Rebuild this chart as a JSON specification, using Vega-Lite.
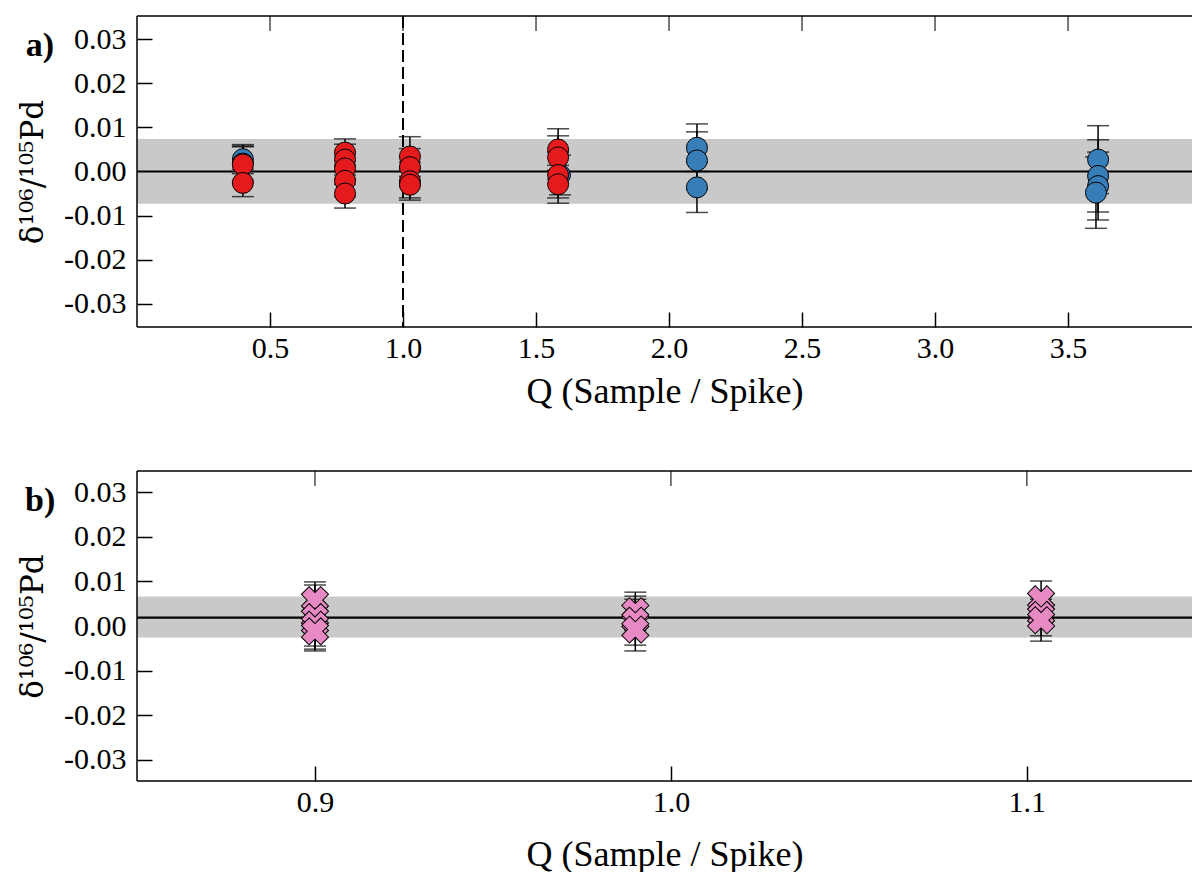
{
  "$schema": "https://vega.github.io/schema/vega-lite/v6.json",
  "padding": {"left": 17, "top": 15, "right": 0, "bottom": 0},
  "background": "white",
  "config": {
    "font": "Liberation Serif",
    "view": {"stroke": null},
    "axis": {
      "labelFont": "Liberation Serif", "titleFont": "Liberation Serif",
      "labelFontSize": 30, "titleFontSize": 36, "titleFontWeight": "normal",
      "labelColor": "black", "titleColor": "black",
      "domainColor": "black", "tickColor": "black",
      "domainWidth": 1.5, "tickWidth": 1.5, "grid": false
    }
  },
  "spacing": 61,
  "datasets": {
    "pointsA": [
      {"Q": 0.398, "delta": 0.0028, "lo": -0.0005, "hi": 0.0061, "set": "A"},
      {"Q": 0.398, "delta": 0.0018, "lo": -0.0020, "hi": 0.0056, "set": "A"},
      {"Q": 1.59, "delta": -0.0008, "lo": -0.0053, "hi": 0.0037, "set": "A"},
      {"Q": 2.105, "delta": 0.0054, "lo": 0.0000, "hi": 0.0108, "set": "A"},
      {"Q": 2.105, "delta": 0.0025, "lo": -0.0040, "hi": 0.0090, "set": "A"},
      {"Q": 2.105, "delta": -0.0036, "lo": -0.0093, "hi": 0.0021, "set": "A"},
      {"Q": 3.613, "delta": 0.0027, "lo": -0.0050, "hi": 0.0104, "set": "A"},
      {"Q": 3.613, "delta": -0.0010, "lo": -0.0092, "hi": 0.0072, "set": "A"},
      {"Q": 3.613, "delta": -0.0033, "lo": -0.0110, "hi": 0.0044, "set": "A"},
      {"Q": 3.605, "delta": -0.0048, "lo": -0.0129, "hi": 0.0033, "set": "A"},
      {"Q": 0.398, "delta": 0.0016, "lo": -0.0026, "hi": 0.0058, "set": "B"},
      {"Q": 0.398, "delta": -0.0026, "lo": -0.0057, "hi": 0.0005, "set": "B"},
      {"Q": 0.782, "delta": 0.0043, "lo": 0.0012, "hi": 0.0074, "set": "B"},
      {"Q": 0.782, "delta": 0.0027, "lo": -0.0008, "hi": 0.0062, "set": "B"},
      {"Q": 0.782, "delta": 0.0007, "lo": -0.0029, "hi": 0.0043, "set": "B"},
      {"Q": 0.782, "delta": -0.0021, "lo": -0.0057, "hi": 0.0015, "set": "B"},
      {"Q": 0.782, "delta": -0.0050, "lo": -0.0083, "hi": -0.0017, "set": "B"},
      {"Q": 1.026, "delta": 0.0034, "lo": -0.0011, "hi": 0.0079, "set": "B"},
      {"Q": 1.026, "delta": 0.0010, "lo": -0.0032, "hi": 0.0052, "set": "B"},
      {"Q": 1.026, "delta": -0.0022, "lo": -0.0065, "hi": 0.0021, "set": "B"},
      {"Q": 1.026, "delta": -0.0030, "lo": -0.0060, "hi": 0.0005, "set": "B"},
      {"Q": 1.583, "delta": 0.0050, "lo": 0.0003, "hi": 0.0097, "set": "B"},
      {"Q": 1.583, "delta": 0.0032, "lo": -0.0017, "hi": 0.0081, "set": "B"},
      {"Q": 1.583, "delta": -0.0008, "lo": -0.0060, "hi": 0.0044, "set": "B"},
      {"Q": 1.583, "delta": -0.0029, "lo": -0.0072, "hi": 0.0014, "set": "B"}
    ],
    "pointsB": [
      {"Q": 0.900, "delta": 0.0058, "lo": 0.0017, "hi": 0.0099, "set": "C"},
      {"Q": 0.900, "delta": 0.0020, "lo": -0.0052, "hi": 0.0092, "set": "C"},
      {"Q": 0.900, "delta": 0.0003, "lo": -0.0045, "hi": 0.0051, "set": "C"},
      {"Q": 0.900, "delta": -0.0012, "lo": -0.0056, "hi": 0.0032, "set": "C"},
      {"Q": 0.990, "delta": 0.0033, "lo": -0.0010, "hi": 0.0076, "set": "C"},
      {"Q": 0.990, "delta": 0.0012, "lo": -0.0043, "hi": 0.0067, "set": "C"},
      {"Q": 0.990, "delta": -0.0008, "lo": -0.0056, "hi": 0.0060, "set": "C"},
      {"Q": 1.104, "delta": 0.0060, "lo": 0.0019, "hi": 0.0101, "set": "C"},
      {"Q": 1.104, "delta": 0.0025, "lo": -0.0022, "hi": 0.0077, "set": "C"},
      {"Q": 1.104, "delta": 0.0013, "lo": -0.0034, "hi": 0.0060, "set": "C"}
    ],
    "bandA": [{"mean": 0.0, "lo": -0.0073, "hi": 0.0074}],
    "bandB": [{"mean": 0.0019, "lo": -0.0026, "hi": 0.0066}],
    "labelA": [{"label": "a)", "Q": -0.365, "delta": 0.0285}],
    "labelB": [{"label": "b)", "Q": 0.8228, "delta": 0.028}],
    "refA": [{"Q": 1.0}],
    "ticksA": [{"Q": 0.5}, {"Q": 1.0}, {"Q": 1.5}, {"Q": 2.0}, {"Q": 2.5}, {"Q": 3.0}, {"Q": 3.5}],
    "ticksB": [{"Q": 0.9}, {"Q": 1.0}, {"Q": 1.1}]
  },
  "vconcat": [
    {
      "width": 1055,
      "height": 311,
      "layer": [
        {
          "data": {"name": "bandA"},
          "mark": {"type": "rect", "color": "#c9c9c9"},
          "encoding": {
            "y": {"field": "lo", "type": "quantitative"},
            "y2": {"field": "hi"}
          }
        },
        {
          "data": {"name": "bandA"},
          "mark": {"type": "rule", "color": "black", "strokeWidth": 2.2},
          "encoding": {"y": {"field": "mean", "type": "quantitative"}}
        },
        {
          "data": {"name": "refA"},
          "mark": {"type": "rule", "color": "black", "strokeWidth": 1.5},
          "encoding": {"y": {"datum": -0.0353, "type": "quantitative"}}
        },
        {
          "data": {"name": "refA"},
          "mark": {"type": "rule", "color": "black", "strokeWidth": 1.5},
          "encoding": {"y": {"datum": 0.0353, "type": "quantitative"}}
        },
        {
          "data": {"name": "refA"},
          "mark": {"type": "rule", "color": "black", "strokeWidth": 1.5},
          "encoding": {"x": {"datum": 0, "type": "quantitative"}}
        },
        {
          "data": {"name": "refA"},
          "mark": {"type": "rule", "color": "black", "strokeWidth": 2, "strokeDash": [12, 5]},
          "encoding": {"x": {"field": "Q", "type": "quantitative"}}
        },
        {
          "data": {"name": "ticksA"},
          "mark": {"type": "tick", "orient": "vertical", "color": "black", "size": 30, "thickness": 1.5, "clip": true},
          "encoding": {
            "x": {"field": "Q", "type": "quantitative"},
            "y": {"datum": 0.0353, "type": "quantitative"}
          }
        },
        {
          "data": {"name": "pointsA"},
          "mark": {"type": "rule", "color": "black", "strokeWidth": 1.5},
          "encoding": {
            "x": {"field": "Q", "type": "quantitative"},
            "y": {"field": "lo", "type": "quantitative"},
            "y2": {"field": "hi"}
          }
        },
        {
          "data": {"name": "pointsA"},
          "mark": {"type": "tick", "orient": "horizontal", "color": "black", "size": 22, "thickness": 1.5},
          "encoding": {
            "x": {"field": "Q", "type": "quantitative"},
            "y": {"field": "lo", "type": "quantitative"}
          }
        },
        {
          "data": {"name": "pointsA"},
          "mark": {"type": "tick", "orient": "horizontal", "color": "black", "size": 22, "thickness": 1.5},
          "encoding": {
            "x": {"field": "Q", "type": "quantitative"},
            "y": {"field": "hi", "type": "quantitative"}
          }
        },
        {
          "data": {"name": "pointsA"},
          "mark": {"type": "point", "shape": "circle", "filled": true, "size": 441, "stroke": "black", "strokeWidth": 1, "opacity": 1},
          "encoding": {
            "x": {"field": "Q", "type": "quantitative",
              "scale": {"domain": [0, 3.966], "nice": false, "zero": false},
              "axis": {"orient": "bottom", "values": [0.5, 1, 1.5, 2, 2.5, 3, 3.5], "format": ".1f",
                "offset": -15, "tickSize": 15, "domain": false,
                "title": "Q (Sample / Spike)", "labelPadding": 6, "titlePadding": 11}},
            "y": {"field": "delta", "type": "quantitative",
              "scale": {"domain": [-0.0353, 0.0353], "nice": false, "zero": false},
              "axis": {"orient": "left", "title": "δ¹⁰⁶/¹⁰⁵Pd", "values": [-0.03, -0.02, -0.01, 0, 0.01, 0.02, 0.03],
                "labelExpr": "replace(format(datum.value, '.2f'), '\u2212', '-')",
                "titleFont": "DejaVu Serif", "titleFontSize": 31,
                "offset": -15, "tickSize": 15, "domain": false, "labelPadding": 11, "titlePadding": 14}},
            "color": {"field": "set", "type": "nominal", "scale": {"domain": ["A", "B", "C"], "range": ["#377eb8", "#e41a1c", "#e78ac3"]}, "legend": null}
          }
        },
        {
          "data": {"name": "labelA"},
          "mark": {"type": "text", "fontSize": 34, "fontWeight": "bold", "font": "Liberation Serif", "align": "center", "baseline": "middle", "color": "black"},
          "encoding": {
            "x": {"field": "Q", "type": "quantitative"},
            "y": {"field": "delta", "type": "quantitative"},
            "text": {"field": "label"}
          }
        }
      ]
    },
    {
      "width": 1055,
      "height": 310,
      "layer": [
        {
          "data": {"name": "bandB"},
          "mark": {"type": "rect", "color": "#c9c9c9"},
          "encoding": {
            "y": {"field": "lo", "type": "quantitative"},
            "y2": {"field": "hi"}
          }
        },
        {
          "data": {"name": "bandB"},
          "mark": {"type": "rule", "color": "black", "strokeWidth": 2.2},
          "encoding": {"y": {"field": "mean", "type": "quantitative"}}
        },
        {
          "data": {"name": "refA"},
          "mark": {"type": "rule", "color": "black", "strokeWidth": 1.5},
          "encoding": {"y": {"datum": -0.0348, "type": "quantitative"}}
        },
        {
          "data": {"name": "refA"},
          "mark": {"type": "rule", "color": "black", "strokeWidth": 1.5},
          "encoding": {"y": {"datum": 0.0348, "type": "quantitative"}}
        },
        {
          "data": {"name": "refA"},
          "mark": {"type": "rule", "color": "black", "strokeWidth": 1.5},
          "encoding": {"x": {"datum": 0.85, "type": "quantitative"}}
        },
        {
          "data": {"name": "ticksB"},
          "mark": {"type": "tick", "orient": "vertical", "color": "black", "size": 30, "thickness": 1.5, "clip": true},
          "encoding": {
            "x": {"field": "Q", "type": "quantitative"},
            "y": {"datum": 0.0348, "type": "quantitative"}
          }
        },
        {
          "data": {"name": "pointsB"},
          "mark": {"type": "rule", "color": "black", "strokeWidth": 1.5},
          "encoding": {
            "x": {"field": "Q", "type": "quantitative"},
            "y": {"field": "lo", "type": "quantitative"},
            "y2": {"field": "hi"}
          }
        },
        {
          "data": {"name": "pointsB"},
          "mark": {"type": "tick", "orient": "horizontal", "color": "black", "size": 22, "thickness": 1.5},
          "encoding": {
            "x": {"field": "Q", "type": "quantitative"},
            "y": {"field": "lo", "type": "quantitative"}
          }
        },
        {
          "data": {"name": "pointsB"},
          "mark": {"type": "tick", "orient": "horizontal", "color": "black", "size": 22, "thickness": 1.5},
          "encoding": {
            "x": {"field": "Q", "type": "quantitative"},
            "y": {"field": "hi", "type": "quantitative"}
          }
        },
        {
          "data": {"name": "pointsB"},
          "mark": {"type": "point", "shape": "cross", "angle": 45, "filled": true, "size": 750, "stroke": "black", "strokeWidth": 1, "opacity": 1},
          "encoding": {
            "x": {"field": "Q", "type": "quantitative",
              "scale": {"domain": [0.85, 1.1464], "nice": false, "zero": false},
              "axis": {"orient": "bottom", "values": [0.9, 1.0, 1.1], "format": ".1f",
                "offset": -15, "tickSize": 15, "domain": false,
                "title": "Q (Sample / Spike)", "labelPadding": 6, "titlePadding": 20}},
            "y": {"field": "delta", "type": "quantitative",
              "scale": {"domain": [-0.0348, 0.0348], "nice": false, "zero": false},
              "axis": {"orient": "left", "title": "δ¹⁰⁶/¹⁰⁵Pd", "values": [-0.03, -0.02, -0.01, 0, 0.01, 0.02, 0.03],
                "labelExpr": "replace(format(datum.value, '.2f'), '\u2212', '-')",
                "titleFont": "DejaVu Serif", "titleFontSize": 31,
                "offset": -15, "tickSize": 15, "domain": false, "labelPadding": 11, "titlePadding": 14}},
            "color": {"field": "set", "type": "nominal", "scale": {"domain": ["A", "B", "C"], "range": ["#377eb8", "#e41a1c", "#e78ac3"]}, "legend": null}
          }
        },
        {
          "data": {"name": "labelB"},
          "mark": {"type": "text", "fontSize": 34, "fontWeight": "bold", "font": "Liberation Serif", "align": "center", "baseline": "middle", "color": "black"},
          "encoding": {
            "x": {"field": "Q", "type": "quantitative"},
            "y": {"field": "delta", "type": "quantitative"},
            "text": {"field": "label"}
          }
        }
      ]
    }
  ]
}
